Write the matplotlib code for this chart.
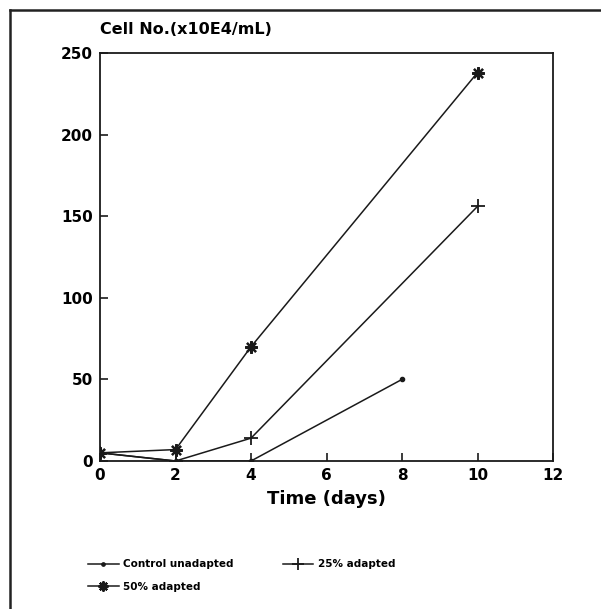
import matplotlib
matplotlib.use("Agg")
import matplotlib.pyplot as plt
from matplotlib.lines import Line2D

plt.rcParams['font.family'] = ['DejaVu Sans']
plt.rcParams['font.weight'] = 'bold'

# Growth data (cell number x10E4/mL vs. time in days)
control_days = [0, 2, 4, 8]
control_cells = [5, 0, 0, 50]
adapted25_days = [0, 2, 4, 10]
adapted25_cells = [5, 0, 14, 156]
adapted50_days = [0, 2, 4, 10]
adapted50_cells = [5, 7, 70, 238]

x_ticks = [0, 2, 4, 6, 8, 10, 12]
y_ticks = [0, 50, 100, 150, 200, 250]

W, H = 601, 609
fig = plt.figure(figsize=(W / 100, H / 100), dpi=100)
fig.patch.set_facecolor('white')

# outer frame: top and left edges only
fig.add_artist(Line2D([10 / W, 1.0], [1 - 10 / H, 1 - 10 / H], transform=fig.transFigure,
                      color='#222222', lw=1.8))
fig.add_artist(Line2D([10 / W, 10 / W], [0.0, 1 - 10 / H], transform=fig.transFigure,
                      color='#222222', lw=1.8))

ax = fig.add_axes([100 / W, 1 - 461 / H, 453 / W, 408 / H])

lc = '#1a1a1a'
l1, = ax.plot(control_days, control_cells, color=lc, lw=1.1, marker='o', ms=3)
l2, = ax.plot(adapted25_days, adapted25_cells, color=lc, lw=1.1, marker='+', ms=10, mew=1.3)
l3, = ax.plot(adapted50_days, adapted50_cells, color=lc, lw=1.1, marker=(8, 2, 0), ms=9, mew=1.6)

ax.set_xlim(0, 12)
ax.set_ylim(0, 250)
ax.set_xticks(x_ticks)
ax.set_yticks(y_ticks)
ax.tick_params(direction='in', length=6, width=1.2, labelsize=11, color=lc, pad=5)
for lab in ax.get_xticklabels() + ax.get_yticklabels():
    lab.set_fontweight('bold')
for s in ax.spines.values():
    s.set_linewidth(1.3)
    s.set_color(lc)

ax.set_xlabel('Time (days)', fontsize=13, fontweight='bold', labelpad=5)
fig.text(100 / W, 1 - 30 / H, 'Cell No.(x10E4/mL)', fontsize=11.5, fontweight='bold',
         ha='left', va='center')

leg = fig.legend([l1, l3, l2], ['Control unadapted', '50% adapted', '25% adapted'],
                 ncol=2, loc='upper left', bbox_to_anchor=(79 / W, 1 - 550 / H),
                 frameon=False, fontsize=7.5, handlelength=2.9, columnspacing=4.8,
                 labelspacing=1.2, handletextpad=0.4, markerscale=0.8)
for t in leg.get_texts():
    t.set_fontweight('bold')

fig.savefig('out.png', dpi=100)
